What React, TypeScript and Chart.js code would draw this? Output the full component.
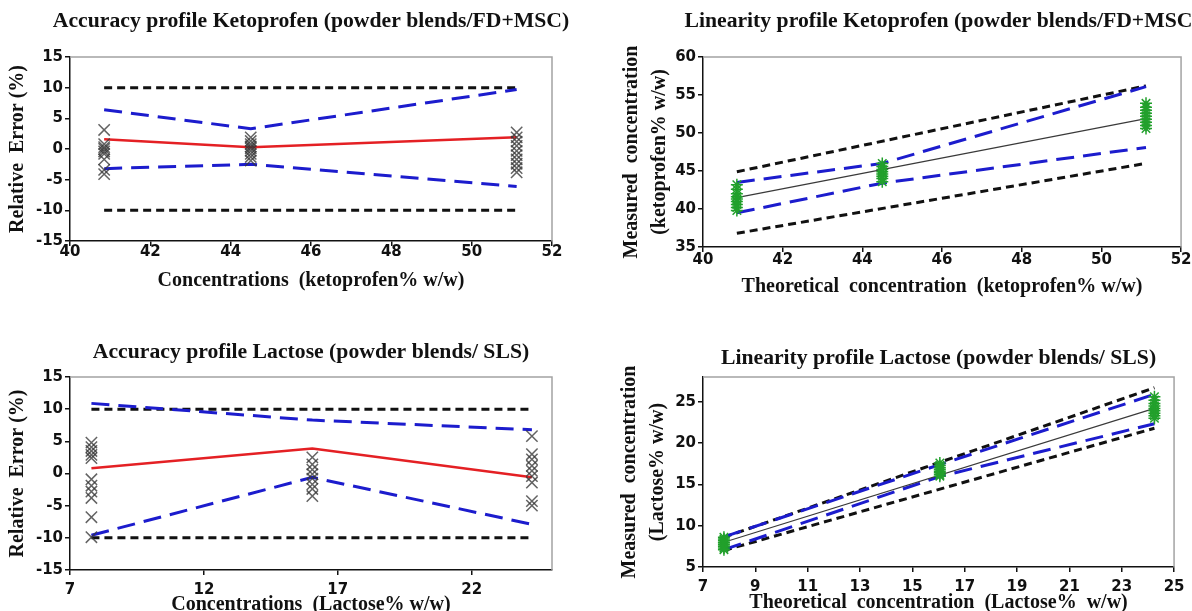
import React, { useEffect, useRef } from 'react';
import { Chart, registerables } from 'chart.js';

Chart.register(...registerables);

// ---------------- Data: Ketoprofen accuracy profile ----------------
const KETO_LEVELS = [40.85, 44.5, 51.12];
const KETO_BIAS = [1.6, 0.3, 1.9];
const KETO_TOL_UPPER = [6.4, 3.3, 9.7];
const KETO_TOL_LOWER = [-3.2, -2.5, -6.1];
const ACC_LIMIT_UPPER = [10, 10];
const ACC_LIMIT_LOWER = [-10, -10];
const KETO_ERR_L1 = [3.1, 0.8, 0.3, 0.0, -0.4, -0.8, -1.7, -3.4, -4.1];
const KETO_ERR_L2 = [1.9, 1.3, 0.8, 0.4, 0.1, -0.3, -0.8, -1.3, -1.9];
const KETO_ERR_L3 = [2.7, 1.9, 1.2, 0.5, -0.3, -1.0, -1.7, -2.4, -3.1, -3.8];
const KETO_X_TICKS = [40, 42, 44, 46, 48, 50, 52];
const ERR_Y_TICKS = [-15, -10, -5, 0, 5, 10, 15];

// ---------------- Data: Ketoprofen linearity profile ----------------
const KETO_LIN_ENDS = [40.85, 51.12];
const KETO_LIN_FIT = [41.5, 51.9];
const KETO_LIN_ACC_UPPER = [44.9, 56.2];
const KETO_LIN_ACC_LOWER = [36.8, 46.0];
const KETO_LIN_TOL_UPPER = [43.5, 46.0, 56.1];
const KETO_LIN_TOL_LOWER = [39.5, 43.4, 48.1];
const KETO_MEAS_L1 = [43.2, 42.6, 42.0, 41.6, 41.3, 41.0, 40.6, 40.2, 39.8];
const KETO_MEAS_L2 = [46.0, 45.6, 45.2, 44.9, 44.6, 44.3, 44.0, 43.6];
const KETO_MEAS_L3 = [53.9, 53.4, 53.0, 52.6, 52.2, 51.8, 51.4, 51.0, 50.6];
const KETO_LIN_Y_TICKS = [35, 40, 45, 50, 55, 60];

// ---------------- Data: Lactose accuracy profile ----------------
const LACT_LEVELS = [7.8, 16.05, 24.25];
const LACT_BIAS = [0.8, 3.9, -0.6];
const LACT_TOL_UPPER = [10.9, 8.3, 6.8];
const LACT_TOL_LOWER = [-9.6, -0.6, -7.9];
const LACT_ERR_L1 = [4.8, 4.1, 3.5, 2.9, 2.4, -0.9, -1.9, -2.8, -3.8, -6.8, -9.9];
const LACT_ERR_L2 = [2.5, 1.4, 0.6, -0.1, -0.8, -1.7, -2.4, -3.5];
const LACT_ERR_L3 = [5.8, 3.0, 2.2, 1.2, 0.4, -0.4, -1.4, -4.3, -5.0];
const LACT_X_TICKS = [7, 12, 17, 22];
const LACT_X_RANGE = [7, 25];

// ---------------- Data: Lactose linearity profile ----------------
const LACT_LIN_ENDS = [7.8, 24.25];
const LACT_LIN_FIT = [8.0, 24.2];
const LACT_LIN_ACC_UPPER = [8.6, 26.7];
const LACT_LIN_ACC_LOWER = [7.0, 21.8];
const LACT_LIN_TOL_UPPER = [8.65, 17.4, 25.9];
const LACT_LIN_TOL_LOWER = [7.1, 15.95, 22.35];
const LACT_MEAS_L1 = [8.6, 8.4, 8.2, 8.0, 7.9, 7.7, 7.5, 7.3, 7.1];
const LACT_MEAS_L2 = [17.6, 17.3, 17.0, 16.8, 16.6, 16.4, 16.2, 16.0];
const LACT_MEAS_L3 = [25.6, 25.2, 24.8, 24.5, 24.2, 23.9, 23.6, 23.3, 23.0];
const LACT_LIN_X_TICKS = [7, 9, 11, 13, 15, 17, 19, 21, 23, 25];
const LACT_LIN_Y_TICKS = [5, 10, 15, 20, 25];
const LACT_LIN_Y_RANGE = [5, 28];

// ---------------- Styles ----------------
const INK = '#111111';
const BLUE = 'rgb(28,28,205)';
const RED = 'rgb(228,32,36)';
const GRAY_X = 'rgba(55,55,55,0.78)';
const GREEN = 'rgb(34,160,44)';
const SERIF = '"Liberation Serif", "Times New Roman", serif';
const SANS = '"DejaVu Sans", Verdana, sans-serif';

const xy = (xs: number[], ys: number[]) => xs.map((x, i) => ({ x, y: ys[i] }));
const col = (x: number, ys: number[]) => ys.map((y) => ({ x, y }));

const lineDs = (data: any[], color: string, width: number, dash: number[]) => ({
  data,
  showLine: true,
  borderColor: color,
  backgroundColor: color,
  borderWidth: width,
  borderDash: dash,
  pointRadius: 0,
  pointHoverRadius: 0,
  tension: 0,
  fill: false,
});

const markDs = (data: any[], style: string, color: string, r: number, w: number) => ({
  data,
  showLine: false,
  pointStyle: style,
  pointRadius: r,
  pointHoverRadius: r,
  pointBorderColor: color,
  pointBackgroundColor: color,
  pointBorderWidth: w,
  borderColor: color,
  backgroundColor: color,
});

// gray top/right frame of the plot box
const framePlugin = {
  id: 'grayFrame',
  beforeDatasetsDraw(chart: any) {
    const { ctx, chartArea } = chart;
    const { left, top, right, bottom } = chartArea;
    ctx.save();
    ctx.strokeStyle = '#a3a3a3';
    ctx.lineWidth = 1.5;
    ctx.beginPath();
    ctx.moveTo(left, top);
    ctx.lineTo(right, top);
    ctx.lineTo(right, bottom);
    ctx.stroke();
    ctx.restore();
  },
};

// chart title centred over the plot box (may overflow the plot width)
const panelTitlePlugin = {
  id: 'panelTitle',
  afterDraw(chart: any, _args: any, opts: any) {
    if (!opts || !opts.text) return;
    const { ctx, chartArea } = chart;
    ctx.save();
    ctx.font = `bold ${opts.size}px ${SERIF}`;
    ctx.fillStyle = INK;
    ctx.textAlign = 'center';
    ctx.textBaseline = 'middle';
    ctx.fillText(opts.text, (chartArea.left + chartArea.right) / 2, opts.y);
    ctx.restore();
  },
};

type Spec = {
  key: string;
  left: number;
  top: number;
  width: number;
  height: number;
  plotTop: number;
  yWidth: number;
  xHeight: number;
  padRight: number;
  title: string;
  titleY: number;
  xTitle: string;
  xTitlePadBottom: number;
  xTickPad: number;
  yTitle: string | string[];
  yTitlePadTop: number;
  yTitleLineHeight: number;
  xRange: number[];
  yRange: number[];
  xTicks: number[];
  yTicks: number[];
  datasets: any[];
};

function axis(
  range: number[],
  ticks: number[],
  tickPad: number,
  fit: (s: any) => void,
  title: any
) {
  return {
    type: 'linear',
    min: range[0],
    max: range[1],
    afterBuildTicks: (s: any) => {
      s.ticks = ticks.map((v) => ({ value: v }));
    },
    afterFit: fit,
    ticks: {
      font: { family: SANS, weight: 'bold', size: 15, lineHeight: 1 },
      color: INK,
      padding: tickPad,
      autoSkip: false,
      maxRotation: 0,
      minRotation: 0,
    },
    grid: {
      drawOnChartArea: false,
      drawTicks: true,
      tickLength: 5,
      tickWidth: 1.5,
      color: INK,
      lineWidth: 1.5,
    },
    border: { display: true, color: INK, width: 1.5 },
    title,
  };
}

function buildConfig(s: Spec): any {
  return {
    type: 'scatter',
    data: { datasets: s.datasets },
    plugins: [framePlugin, panelTitlePlugin],
    options: {
      animation: false,
      responsive: false,
      devicePixelRatio: 1,
      events: [],
      layout: { padding: { left: 0, top: s.plotTop, right: s.padRight, bottom: 0 } },
      plugins: {
        legend: { display: false },
        tooltip: { enabled: false },
        title: { display: false },
        panelTitle: { text: s.title, size: 21.7, y: s.titleY },
      },
      scales: {
        x: axis(
          s.xRange,
          s.xTicks,
          s.xTickPad,
          (sc: any) => {
            sc.height = s.xHeight;
          },
          {
            display: true,
            text: s.xTitle,
            color: INK,
            font: { family: SERIF, weight: 'bold', size: 20, lineHeight: 1.2 },
            padding: { top: 0, bottom: s.xTitlePadBottom },
          }
        ),
        y: axis(
          s.yRange,
          s.yTicks,
          2,
          (sc: any) => {
            sc.width = s.yWidth;
          },
          {
            display: true,
            text: s.yTitle,
            color: INK,
            font: { family: SERIF, weight: 'bold', size: 20, lineHeight: s.yTitleLineHeight },
            padding: { top: s.yTitlePadTop, bottom: 0 },
          }
        ),
      },
    },
  };
}

const accuracyDatasets = (
  levels: number[],
  bias: number[],
  tolUp: number[],
  tolLo: number[],
  e1: number[],
  e2: number[],
  e3: number[]
) => {
  const ends = [levels[0], levels[levels.length - 1]];
  return [
    markDs([...col(levels[0], e1), ...col(levels[1], e2), ...col(levels[2], e3)], 'crossRot', GRAY_X, 8, 1.5),
    lineDs(xy(levels, bias), RED, 2.5, []),
    lineDs(xy(levels, tolUp), BLUE, 3, [18, 9]),
    lineDs(xy(levels, tolLo), BLUE, 3, [18, 9]),
    lineDs(xy(ends, ACC_LIMIT_UPPER), INK, 3, [8, 5]),
    lineDs(xy(ends, ACC_LIMIT_LOWER), INK, 3, [8, 5]),
  ];
};

const linearityDatasets = (
  levels: number[],
  ends: number[],
  fit: number[],
  accUp: number[],
  accLo: number[],
  tolUp: number[],
  tolLo: number[],
  m1: number[],
  m2: number[],
  m3: number[]
) => [
  markDs([...col(levels[0], m1), ...col(levels[1], m2), ...col(levels[2], m3)], 'star', GREEN, 6, 1.5),
  lineDs(xy(ends, fit), '#3a3a3a', 1.2, []),
  lineDs(xy(levels, tolUp), BLUE, 3, [18, 9]),
  lineDs(xy(levels, tolLo), BLUE, 3, [18, 9]),
  lineDs(xy(ends, accUp), INK, 3, [8, 5]),
  lineDs(xy(ends, accLo), INK, 3, [8, 5]),
];

const SPECS: Spec[] = [
  {
    key: 'tl',
    left: 0,
    top: 0,
    width: 596,
    height: 300,
    plotTop: 57,
    yWidth: 70,
    xHeight: 59,
    padRight: 44,
    title: 'Accuracy profile Ketoprofen (powder blends/FD+MSC)',
    titleY: 21,
    xTitle: 'Concentrations  (ketoprofen% w/w)',
    xTitlePadBottom: 7,
    xTickPad: -1,
    yTitle: 'Relative  Error (%)',
    yTitlePadTop: 6,
    yTitleLineHeight: 1.2,
    xRange: [KETO_X_TICKS[0], KETO_X_TICKS[KETO_X_TICKS.length - 1]],
    yRange: [ERR_Y_TICKS[0], ERR_Y_TICKS[ERR_Y_TICKS.length - 1]],
    xTicks: KETO_X_TICKS,
    yTicks: ERR_Y_TICKS,
    datasets: accuracyDatasets(KETO_LEVELS, KETO_BIAS, KETO_TOL_UPPER, KETO_TOL_LOWER, KETO_ERR_L1, KETO_ERR_L2, KETO_ERR_L3),
  },
  {
    key: 'tr',
    left: 596,
    top: 0,
    width: 596,
    height: 300,
    plotTop: 57,
    yWidth: 107,
    xHeight: 53,
    padRight: 9,
    title: 'Linearity profile Ketoprofen (powder blends/FD+MSC)',
    titleY: 21,
    xTitle: 'Theoretical  concentration  (ketoprofen% w/w)',
    xTitlePadBottom: 1,
    xTickPad: 0.5,
    yTitle: ['Measured  concentration', '(ketoprofen% w/w)'],
    yTitlePadTop: 22,
    yTitleLineHeight: 1.4,
    xRange: [KETO_X_TICKS[0], KETO_X_TICKS[KETO_X_TICKS.length - 1]],
    yRange: [KETO_LIN_Y_TICKS[0], KETO_LIN_Y_TICKS[KETO_LIN_Y_TICKS.length - 1]],
    xTicks: KETO_X_TICKS,
    yTicks: KETO_LIN_Y_TICKS,
    datasets: linearityDatasets(
      KETO_LEVELS,
      KETO_LIN_ENDS,
      KETO_LIN_FIT,
      KETO_LIN_ACC_UPPER,
      KETO_LIN_ACC_LOWER,
      KETO_LIN_TOL_UPPER,
      KETO_LIN_TOL_LOWER,
      KETO_MEAS_L1,
      KETO_MEAS_L2,
      KETO_MEAS_L3
    ),
  },
  {
    key: 'bl',
    left: 0,
    top: 300,
    width: 596,
    height: 320,
    plotTop: 77,
    yWidth: 70,
    xHeight: 50,
    padRight: 44,
    title: 'Accuracy profile Lactose (powder blends/ SLS)',
    titleY: 52,
    xTitle: 'Concentrations  (Lactose% w/w)',
    xTitlePadBottom: 3,
    xTickPad: 7.5,
    yTitle: 'Relative  Error (%)',
    yTitlePadTop: 6,
    yTitleLineHeight: 1.2,
    xRange: LACT_X_RANGE,
    yRange: [ERR_Y_TICKS[0], ERR_Y_TICKS[ERR_Y_TICKS.length - 1]],
    xTicks: LACT_X_TICKS,
    yTicks: ERR_Y_TICKS,
    datasets: accuracyDatasets(LACT_LEVELS, LACT_BIAS, LACT_TOL_UPPER, LACT_TOL_LOWER, LACT_ERR_L1, LACT_ERR_L2, LACT_ERR_L3),
  },
  {
    key: 'br',
    left: 596,
    top: 300,
    width: 596,
    height: 320,
    plotTop: 77,
    yWidth: 107,
    xHeight: 53,
    padRight: 16,
    title: 'Linearity profile Lactose (powder blends/ SLS)',
    titleY: 58,
    xTitle: 'Theoretical  concentration  (Lactose%  w/w)',
    xTitlePadBottom: 5,
    xTickPad: 7.5,
    yTitle: ['Measured  concentration', '(Lactose% w/w)'],
    yTitlePadTop: 20,
    yTitleLineHeight: 1.4,
    xRange: [LACT_LIN_X_TICKS[0], LACT_LIN_X_TICKS[LACT_LIN_X_TICKS.length - 1]],
    yRange: LACT_LIN_Y_RANGE,
    xTicks: LACT_LIN_X_TICKS,
    yTicks: LACT_LIN_Y_TICKS,
    datasets: linearityDatasets(
      LACT_LEVELS,
      LACT_LIN_ENDS,
      LACT_LIN_FIT,
      LACT_LIN_ACC_UPPER,
      LACT_LIN_ACC_LOWER,
      LACT_LIN_TOL_UPPER,
      LACT_LIN_TOL_LOWER,
      LACT_MEAS_L1,
      LACT_MEAS_L2,
      LACT_MEAS_L3
    ),
  },
];

function Panel({ spec }: { spec: Spec }) {
  const ref = useRef<HTMLCanvasElement | null>(null);
  useEffect(() => {
    if (!ref.current) return;
    const chart = new Chart(ref.current, buildConfig(spec));
    return () => chart.destroy();
  }, [spec]);
  return (
    <canvas
      ref={ref}
      width={spec.width}
      height={spec.height}
      style={{
        position: 'absolute',
        left: spec.left,
        top: spec.top,
        width: spec.width,
        height: spec.height,
      }}
    />
  );
}

export default function App() {
  return (
    <div
      style={{
        position: 'absolute',
        left: 0,
        top: 0,
        width: 1192,
        height: 611,
        overflow: 'hidden',
        background: '#ffffff',
      }}
    >
      {SPECS.map((s) => (
        <Panel key={s.key} spec={s} />
      ))}
    </div>
  );
}
